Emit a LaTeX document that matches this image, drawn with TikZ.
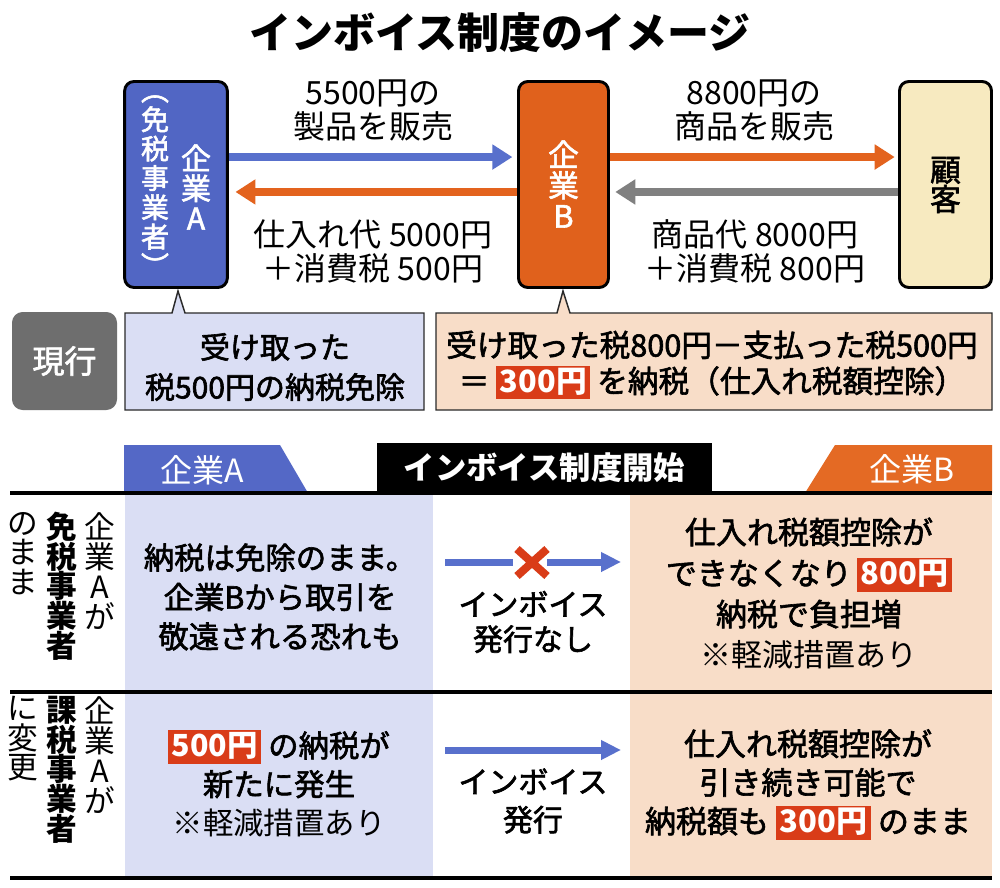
\documentclass[tikz,border=0pt]{standalone}
\usepackage{fontspec}
\setmainfont{Noto Sans CJK JP}
\newfontfamily\jpm[FakeBold=2]{Noto Sans CJK JP}
\usetikzlibrary{arrows.meta}
\definecolor{cA}{HTML}{5166C4}
\definecolor{cB}{HTML}{E0611C}
\definecolor{cC}{HTML}{F7EAC0}
\definecolor{lav}{HTML}{DADEF4}
\definecolor{pch}{HTML}{F8DDC8}
\definecolor{hl}{HTML}{D93C18}
\definecolor{gry}{HTML}{6E6E6E}
\definecolor{arrBlue}{HTML}{5870CC}
\definecolor{arrOrange}{HTML}{E3631E}
\definecolor{arrGray}{HTML}{808080}
\definecolor{tabA}{HTML}{5468C6}
\definecolor{tabB}{HTML}{E46A24}
\definecolor{bd}{HTML}{2A2A2A}
\newcommand\hlbox[1]{{\setlength\fboxsep{0pt}\colorbox{hl}{\hspace{0.12em}\textcolor{white}{\normalfont\bfseries\rule[-0.22em]{0pt}{1.1em}#1}\hspace{0.12em}}}}
\begin{document}
\begin{tikzpicture}[x=0.75pt,y=-0.75pt,
  firm/.style={draw=black, line width=2.2pt, rounded corners=7pt, inner sep=0pt},
  vt/.style={align=center, inner sep=0pt},
  lbl/.style={align=center, inner sep=0pt, font=\fontsize{24}{25.5}\selectfont},
  flow/.style={line width=6pt, -{Triangle[length=15pt,width=18pt]}},
  tflow/.style={line width=5.25pt, arrBlue, -{Triangle[length=15pt,width=14pt]}},
  bubble/.style={draw=bd, line width=1.1pt, line join=miter},
  body/.style={align=center, inner sep=0pt},
  rule/.style={line width=2.3pt, black},
  hdr/.style={text=white, inner sep=0pt, font=\fontsize{24}{24}\selectfont}
]
\useasboundingbox (0,0) rectangle (1000,888);
\fill[white] (0,0) rectangle (1000,888);

% title
\node[font=\bfseries\fontsize{31.5}{32}\selectfont] (title) at (500,33) {インボイス制度のイメージ};

% companies
\node[firm, fill=cA, minimum width=77pt, minimum height=154.5pt] (A) at (176,184.5) {};
\node[firm, fill=cB, minimum width=67.5pt, minimum height=154.5pt] (B) at (563.5,184.5) {};
\node[firm, fill=cC, minimum width=69pt, minimum height=154.5pt] (C) at (945.5,184.5) {};

\node[vt, text=white, font=\jpm\fontsize{22.5}{22.5}\selectfont] (An) at (196,187) {企\\業\\A};
\node[vt, text=white, font=\jpm\fontsize{21}{22}\selectfont] (As) at (155,186) {︵\\免\\税\\事\\業\\者\\︶};
\node[vt, text=white, font=\jpm\fontsize{23}{23}\selectfont] (Bn) at (563.5,184) {企\\業\\B};
\node[vt, font=\jpm\fontsize{23}{22}\selectfont] (Cn) at (945.5,185) {顧\\客};

% arrows top
\draw[flow, arrBlue, shorten >=3.5pt] ([yshift=20.6pt]A.east) -- ([yshift=20.6pt]B.west);
\draw[flow, arrOrange, shorten >=5pt] ([yshift=-5.6pt]B.west) -- ([yshift=-5.6pt]A.east);
\draw[flow, arrOrange, shorten >=2.5pt] ([yshift=20.6pt]B.east) -- ([yshift=20.6pt]C.west);
\draw[flow, arrGray, shorten >=4pt] ([yshift=-5.6pt]C.west) -- ([yshift=-5.6pt]B.east);

\node[lbl] (l1) at (373,110) {5500円の\\製品を販売};
\node[lbl] (l2) at (373,251) {仕入れ代 5000円\\＋消費税 500円};
\node[lbl] (l3) at (754,110) {8800円の\\商品を販売};
\node[lbl] (l4) at (755,251) {商品代 8000円\\＋消費税 800円};

% current
\node[fill=gry, rounded corners=8pt, minimum width=78.75pt, minimum height=73.5pt, inner sep=0pt, text=white, font=\jpm\fontsize{24}{24}\selectfont] (now) at (64.5,361) {現行};

\draw[bubble, fill=lav] (125,313) -- (172,313) -- (178,291) -- (185,313) -- (424,313) -- (424,410) -- (125,410) -- cycle;
\node[body, font=\jpm\fontsize{22.5}{30}\selectfont] (tA) at (275,367) {受け取った\\税500円の納税免除};
\draw[bubble, fill=pch] (436,313) -- (557,313) -- (563,291) -- (570,313) -- (992,313) -- (992,410) -- (436,410) -- cycle;
\node[body, font=\jpm\fontsize{23}{27}\selectfont] (tB) at (712,365) {受け取った税800円－支払った税500円\\＝ \hlbox{300円} を納税（仕入れ税額控除）};

% table
\fill[lav] (125,493) rectangle (433,878);
\fill[pch] (630,493) rectangle (992,878);
\fill[tabA] (124,445) -- (280,445) -- (308,493) -- (124,493) -- cycle;
\fill[tabB] (835,445) -- (992,445) -- (992,493) -- (805,493) -- cycle;
\node[fill=black, minimum width=251.25pt, minimum height=37.5pt, inner sep=0pt] (hbox) at (544.5,468) {};
\node[hdr, font=\bfseries\fontsize{23.5}{24}\selectfont] (h2) at (hbox.center) {インボイス制度開始};
\node[hdr] (h1) at (202,470) {企業A};
\node[hdr] (h3) at (912,469) {企業B};

\draw[rule] (10,493) -- (992,493);
\draw[rule] (10,692) -- (992,692);
\draw[rule] (10,878) -- (992,878);

% row labels
\node[vt, anchor=north, font=\fontsize{23}{22.5}\selectfont] (r1a) at (100,512) {企\\業\\A\\が};
\node[vt, anchor=north, font=\bfseries\fontsize{23}{22.2}\selectfont] (r1b) at (62,512) {免\\税\\事\\業\\者};
\node[vt, anchor=north, font=\fontsize{23}{22.2}\selectfont] (r1c) at (23,512) {の\\ま\\ま};
\node[vt, anchor=north, font=\fontsize{23}{22.5}\selectfont] (r2a) at (100,696) {企\\業\\A\\が};
\node[vt, anchor=north, font=\bfseries\fontsize{23}{22.2}\selectfont] (r2b) at (62,696) {課\\税\\事\\業\\者};
\node[vt, anchor=north, font=\fontsize{23}{22.2}\selectfont] (r2c) at (23,696) {に\\変\\更};

% row 1
\node[body, font=\jpm\fontsize{22.8}{29.6}\selectfont] (r1A) at (280,597) {納税は免除のまま。\\企業Bから取引を\\敬遠される恐れも};
\coordinate (r1s) at (445,562);
\coordinate (x1w) at (513,562);
\coordinate (x1e) at (547,562);
\coordinate (r1e) at (621,562);
\draw[line width=5.25pt, arrBlue] (r1s) -- (x1w);
\draw[tflow] (x1e) -- (r1e);
\draw[line width=6pt, hl] (517,549) -- (547,576) (547,549) -- (517,576);
\node[body, font=\jpm\fontsize{22.5}{26.25}\selectfont] (r1M) at (533,622) {インボイス\\発行なし};
\node[body, font=\jpm\fontsize{23.25}{30.75}\selectfont] (r1B) at (809,593.5) {仕入れ税額控除が\\できなくなり\,\hlbox{800円}\\納税で負担増\\{\normalfont ※軽減措置あり}};

% row 2
\node[body, font=\jpm\fontsize{22.8}{29}\selectfont] (r2A) at (279,783.5) {\hlbox{500円} の納税が\\新たに発生\\{\normalfont ※軽減措置あり}};
\coordinate (r2s) at (445,750);
\coordinate (r2e) at (621,750);
\draw[tflow] (r2s) -- (r2e);
\node[body, font=\jpm\fontsize{22.5}{28.5}\selectfont] (r2M) at (533,801) {インボイス\\発行};
\node[body, font=\jpm\fontsize{23.25}{29}\selectfont] (r2B) at (808,784.5) {仕入れ税額控除が\\引き続き可能で\\納税額も \hlbox{300円} のまま};
\end{tikzpicture}
\end{document}
